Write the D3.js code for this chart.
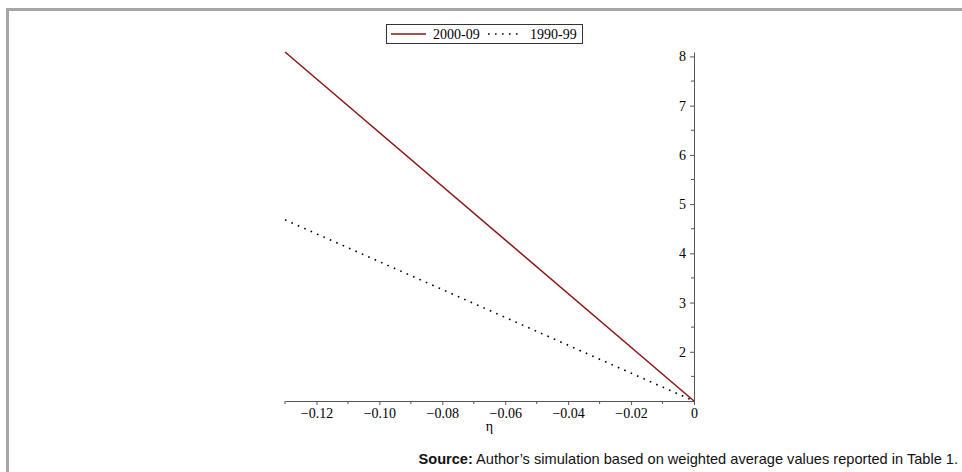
<!DOCTYPE html>
<html>
<head>
<meta charset="utf-8">
<script src="https://cdn.jsdelivr.net/npm/d3@7"></script>
<style>
  html, body { margin: 0; padding: 0; background: #fff; }
  svg { display: block; }
  .serif { font-family: "Liberation Serif", "Times New Roman", Times, serif; }
  .sans { font-family: "Liberation Sans", Arial, Helvetica, sans-serif; }
</style>
</head>
<body>
<script>
// ---- data ----
const seriesNames = ["2000-09", "1990-99"];
const eta = [-0.13, 0];
const values2000 = [8.09, 1.0];
const values1990 = [4.68, 1.0];
const xTickValues = [-0.12, -0.10, -0.08, -0.06, -0.04, -0.02, 0];
const xTickLabels = ["\u22120.12", "\u22120.10", "\u22120.08", "\u22120.06", "\u22120.04", "\u22120.02", "0"];
const yTickValues = [2, 3, 4, 5, 6, 7, 8];
const xMinorTicks = [-0.13, -0.11, -0.09, -0.07, -0.05, -0.03, -0.01];
const yMinorTicks = [1.5, 2.5, 3.5, 4.5, 5.5, 6.5, 7.5];
const sourceBold = "Source:";
const sourceText = " Author\u2019s simulation based on weighted average values reported in Table 1.";

const W = 962, H = 472;
const svg = d3.select("body").append("svg").attr("width", W).attr("height", H);

// frame
svg.append("rect").attr("x", 6).attr("y", 8).attr("width", W - 6).attr("height", 3).attr("fill", "#a6a6a6");
svg.append("rect").attr("x", 6).attr("y", 8).attr("width", 3).attr("height", H - 8).attr("fill", "#a6a6a6");

const x = d3.scaleLinear().domain([-0.13, 0]).range([285, 694]);
const y = d3.scaleLinear().domain([1, 8.09]).range([401, 52]);

// x axis
const gx = svg.append("g").attr("transform", `translate(0,${y(1)})`);
gx.call(d3.axisBottom(x).tickValues(xTickValues).tickFormat((d, i) => xTickLabels[i]).tickSize(4).tickPadding(3).tickSizeOuter(0));
gx.attr("font-family", null).attr("font-size", null);
gx.append("g").selectAll("line").data(xMinorTicks).join("line")
  .attr("x1", d => x(d)).attr("x2", d => x(d)).attr("y1", 0).attr("y2", 3).attr("stroke", "#555");
gx.selectAll("text").attr("class", "serif").style("font-size", "14px").attr("fill", "#000");
gx.select(".domain").attr("stroke", "#555");
gx.selectAll(".tick line").attr("stroke", "#555");

// y axis
const gy = svg.append("g").attr("transform", `translate(${x(0)},0)`);
gy.call(d3.axisLeft(y).tickValues(yTickValues).tickFormat(d3.format("d")).tickSize(4).tickPadding(4).tickSizeOuter(0));
gy.attr("font-family", null).attr("font-size", null);
gy.append("g").selectAll("line").data(yMinorTicks).join("line")
  .attr("x1", 0).attr("x2", -3).attr("y1", d => y(d)).attr("y2", d => y(d)).attr("stroke", "#555");
gy.selectAll("text").attr("class", "serif").style("font-size", "14px").attr("fill", "#000");
gy.select(".domain").attr("stroke", "#555");
gy.selectAll(".tick line").attr("stroke", "#555");

// axis title
svg.append("text").attr("class", "serif").attr("x", (x.range()[0] + x.range()[1]) / 2).attr("y", 431)
  .attr("text-anchor", "middle").style("font-size", "14px").text("\u03b7");

// lines
const line = d3.line().x(d => x(d[0])).y(d => y(d[1]));
svg.append("path").datum(eta.map((e, i) => [e, values1990[i]])).attr("d", line)
  .attr("fill", "none").attr("stroke", "#000").attr("stroke-width", 1.6)
  .attr("stroke-dasharray", "1.6,5.4");
svg.append("path").datum(eta.map((e, i) => [e, values2000[i]])).attr("d", line)
  .attr("fill", "none").attr("stroke", "#8c1515").attr("stroke-width", 1.5);

// legend
const lg = svg.append("g");
lg.append("rect").attr("x", 386.5).attr("y", 24.5).attr("width", 196).attr("height", 19)
  .attr("fill", "#fff").attr("stroke", "#333").attr("stroke-width", 1);
lg.append("line").attr("x1", 391).attr("x2", 426).attr("y1", 34).attr("y2", 34)
  .attr("stroke", "#8c1515").attr("stroke-width", 1.5);
lg.append("text").attr("class", "serif").attr("x", 433).attr("y", 39).style("font-size", "14px").text(seriesNames[0]);
lg.append("line").attr("x1", 488).attr("x2", 522).attr("y1", 34).attr("y2", 34)
  .attr("stroke", "#000").attr("stroke-width", 1.6).attr("stroke-dasharray", "1.6,5.4");
lg.append("text").attr("class", "serif").attr("x", 530).attr("y", 39).style("font-size", "14px").text(seriesNames[1]);

// source
const st = svg.append("text").attr("class", "sans").attr("x", 958).attr("y", 464).attr("text-anchor", "end")
  .style("font-size", "14.6px").attr("fill", "#111");
st.append("tspan").attr("font-weight", "bold").text(sourceBold);
st.append("tspan").text(sourceText);
</script>
</body>
</html>
